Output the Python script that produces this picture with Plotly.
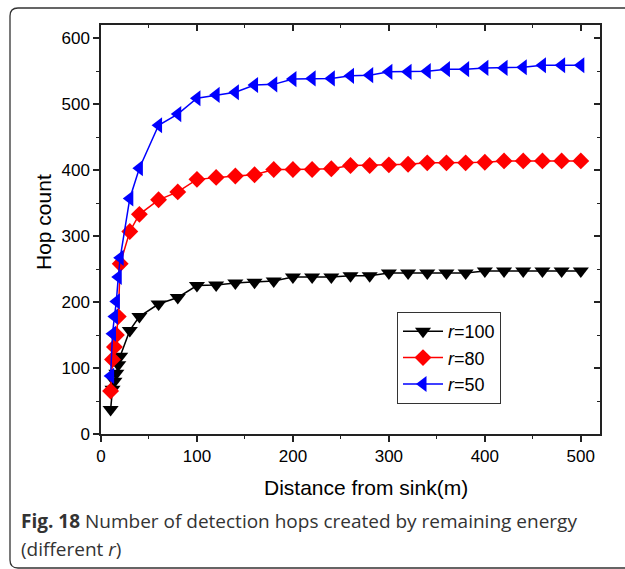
import plotly.graph_objects as go

# ---- data ----
x_r100 = [10, 12, 14, 16, 18, 20, 30, 40, 60, 80, 100, 120, 140, 160, 180, 200, 220, 240, 260, 280,
          300, 320, 340, 360, 380, 400, 420, 440, 460, 480, 500]
y_r100 = [37, 68, 80, 92, 105, 118, 157, 178, 197, 207, 225, 226, 229, 230, 232, 238, 238, 238, 240, 240,
          244, 244, 244, 244, 244, 247, 247, 247, 247, 247, 247]

x_r80 = [10, 12, 14, 16, 18, 20, 30, 40, 60, 80, 100, 120, 140, 160, 180, 200, 220, 240, 260, 280,
         300, 320, 340, 360, 380, 400, 420, 440, 460, 480, 500]
y_r80 = [65, 113, 132, 150, 178, 258, 307, 333, 355, 367, 386, 389, 391, 393, 401, 401, 401, 402, 407, 407,
         408, 409, 411, 411, 411, 412, 414, 414, 414, 414, 414]

x_r50 = [10, 12, 14, 16, 18, 20, 30, 40, 60, 80, 100, 120, 140, 160, 180, 200, 220, 240, 260, 280,
         300, 320, 340, 360, 380, 400, 420, 440, 460, 480, 500]
y_r50 = [88, 152, 178, 201, 238, 267, 357, 403, 468, 485, 509, 514, 518, 529, 530, 538, 539, 539, 543, 544,
         549, 549, 550, 553, 553, 555, 555, 556, 559, 559, 559]

series_names = ["<i>r</i>=100", "<i>r</i>=80", "<i>r</i>=50"]
x_ticks = [0, 100, 200, 300, 400, 500]
y_ticks = [0, 100, 200, 300, 400, 500, 600]
x_title = "Distance from sink(m)"
y_title = "Hop count"

W, H = 625, 569
L, R, T, B = 101, 25, 25, 135
PW, PH = W - L - R, H - T - B


def px(xp):
    return (xp - L) / PW


def py(yp):
    return (H - B - yp) / PH


fig = go.Figure()

styles = [
    (x_r100, y_r100, "black", "triangle-down", 14),
    (x_r80, y_r80, "#ff0000", "diamond", 13),
    (x_r50, y_r50, "#0000ff", "triangle-left", 14),
]
for (xs, ys, col, sym, sz), name in zip(styles, series_names):
    fig.add_trace(go.Scatter(
        x=xs, y=ys, name=name, mode="lines+markers",
        line=dict(color=col, width=1.5),
        marker=dict(symbol=sym, size=sz, color=col, line=dict(width=0)),
    ))

# helper trace for mirrored (inside) top/right axes
fig.add_trace(go.Scatter(x=[None], y=[None], xaxis="x2", yaxis="y2",
                         showlegend=False, hoverinfo="skip"))

FAM = "Liberation Sans, Arial, sans-serif"
axis_font = dict(family=FAM, size=17, color="black")
title_font = dict(family=FAM, size=21, color="black")
common = dict(showgrid=False, zeroline=False, linecolor="#222", linewidth=1.5,
              tickcolor="#222", tickwidth=1.5)

fig.update_layout(
    width=W, height=H,
    margin=dict(l=L, r=R, t=T, b=B),
    paper_bgcolor="white", plot_bgcolor="white",
    showlegend=True,
    legend=dict(x=px(397), y=py(312), xanchor="left", yanchor="top",
                bordercolor="#333", borderwidth=1, bgcolor="white",
                font=dict(family=FAM, size=18, color="black"),
                itemwidth=40, tracegroupgap=0),
    xaxis=dict(range=[0, 520], tickvals=x_ticks, ticks="outside", ticklen=6,
               minor=dict(dtick=50, ticks="outside", ticklen=3, tickcolor="#222", tickwidth=1.2),
               tickfont=axis_font, showline=True, **common),
    yaxis=dict(range=[0, 620], tickvals=y_ticks, ticks="outside", ticklen=6,
               minor=dict(dtick=50, ticks="outside", ticklen=3, tickcolor="#222", tickwidth=1.2),
               tickfont=axis_font, showline=True, **common),
    xaxis2=dict(range=[0, 520], overlaying="x", side="top", tickvals=x_ticks, ticks="inside", ticklen=6,
                minor=dict(dtick=50, ticks="inside", ticklen=3, tickcolor="#222", tickwidth=1.2),
                showticklabels=False, showline=True, **common),
    yaxis2=dict(range=[0, 620], overlaying="y", side="right", tickvals=y_ticks, ticks="inside", ticklen=6,
                minor=dict(dtick=50, ticks="inside", ticklen=3, tickcolor="#222", tickwidth=1.2),
                showticklabels=False, showline=True, **common),
)

# axis titles placed as in the reference
fig.add_annotation(xref="paper", yref="paper", x=px(366), y=py(487), xanchor="center", yanchor="middle",
                   showarrow=False, text=x_title, font=title_font)
fig.add_annotation(xref="paper", yref="paper", x=px(43), y=py(222), xanchor="center", yanchor="middle",
                   showarrow=False, text=y_title, font=title_font, textangle=-90)

# outer figure frame (rounded on the left, continues off the right/bottom edges)
path = (f"M {px(640)},{py(8)} L {px(18)},{py(8)} Q {px(10)},{py(8)} {px(10)},{py(16)} "
        f"L {px(10)},{py(560)} Q {px(10)},{py(568)} {px(18)},{py(568)} L {px(640)},{py(568)}")
fig.add_shape(type="path", path=path, xref="paper", yref="paper",
              line=dict(color="#333", width=1.3))

cap_font = dict(family="Open Sans, sans-serif", size=19, color="#333")
fig.add_annotation(xref="paper", yref="paper", x=px(19), y=py(521), xanchor="left", yanchor="middle",
                   showarrow=False, align="left", font=cap_font,
                   text="<b>Fig. 18</b> Number of detection hops created by remaining energy")
fig.add_annotation(xref="paper", yref="paper", x=px(19), y=py(549), xanchor="left", yanchor="middle",
                   showarrow=False, align="left", font=cap_font,
                   text="(different <i>r</i>)")

fig.write_html("out.html")
